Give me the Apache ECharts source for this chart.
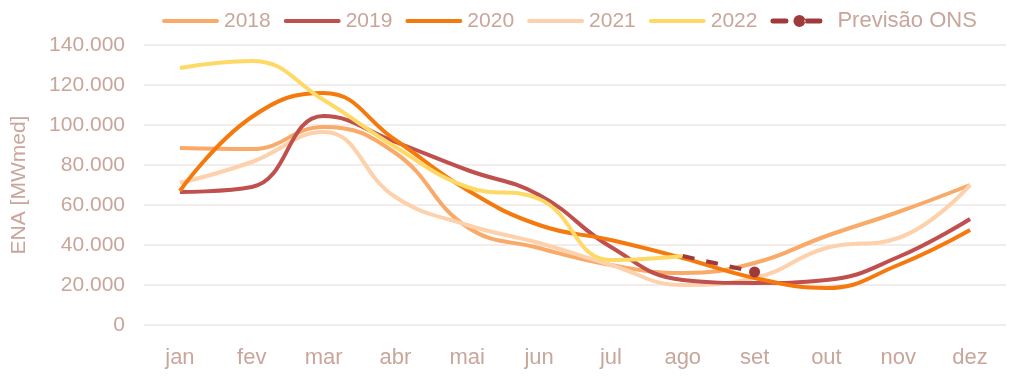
<!DOCTYPE html>
<html>
<head>
<meta charset="utf-8">
<script src="https://cdn.jsdelivr.net/npm/echarts@6/dist/echarts.min.js"></script>
<style>html,body{margin:0;padding:0;background:#fff;}#c{width:1024px;height:376px;}</style>
</head>
<body>
<div id="c"></div>
<script>
const months = ['jan','fev','mar','abr','mai','jun','jul','ago','set','out','nov','dez'];
const s2018 = [88500, 88000, 99000, 86000, 49000, 38500, 30000, 26000, 31000, 44500, 56500, 70000];
const s2019 = [66500, 69000, 104500, 91500, 77500, 65000, 39000, 22500, 21000, 22500, 34000, 53000];
const s2020 = [67000, 104000, 116000, 92500, 67500, 50000, 42500, 33500, 23500, 18500, 30000, 47500];
const s2021 = [71000, 81500, 96500, 64000, 50000, 41000, 30000, 20000, 23500, 38500, 43500, 70000];
const s2022 = [128500, 132000, 112500, 89000, 69000, 63000, 32500, 34500];
const prev = [null, null, null, null, null, null, null, 34500, 26500];

const textColor = '#C8A69C';
const font = 'Liberation Sans';
function fmt(v){ return String(v).replace(/\B(?=(\d{3})+(?!\d))/g, '.'); }
const bounds = 'M0,0h0.01v0.01h-0.01z M56.99,12h0.01v0.01h-0.01z ';
const lineIcon = 'path://' + bounds + 'M2,4h53a2,2 0 0 1 0,4h-53a2,2 0 0 1 0,-4z';
const prevIcon = 'path://' + bounds + 'M2.5,3.5h13a2.5,2.5 0 0 1 0,5h-13a2.5,2.5 0 0 1 0,-5z M23,6a6,6 0 1 0 12,0a6,6 0 1 0 -12,0z M36.5,3.5h13a2.5,2.5 0 0 1 0,5h-13a2.5,2.5 0 0 1 0,-5z';
function line(name, data, color, z){
  return {name, type:'line', data, smooth:0.45, symbol:'none', z,
    lineStyle:{width:4, color}, itemStyle:{color}};
}
const chart = echarts.init(document.getElementById('c'), null, {renderer:'canvas'});
chart.setOption({
  animation:false,
  backgroundColor:'#fff',
  textStyle:{fontFamily:font},
  grid:{left:144, right:18, top:45, bottom:51},
  legend:{
    top:5, left:157, itemWidth:57, itemHeight:12, itemGap:13,
    textStyle:{color:textColor, fontSize:21, fontFamily:font},
    data:[
      {name:'2018', icon:lineIcon},
      {name:'2019', icon:lineIcon},
      {name:'2020', icon:lineIcon},
      {name:'2021', icon:lineIcon},
      {name:'2022', icon:lineIcon},
      {name:'Previsão ONS', icon:prevIcon, textStyle:{fontSize:22, padding:[0,0,0,5]}}
    ]
  },
  xAxis:{
    type:'category', data:months, boundaryGap:true,
    axisLine:{show:false}, axisTick:{show:false},
    axisLabel:{color:textColor, fontSize:22, fontFamily:font, margin:22}
  },
  yAxis:{
    type:'value', min:0, max:140000, interval:20000,
    name:'ENA [MWmed]', nameLocation:'middle', nameGap:114, nameRotate:90,
    nameTextStyle:{color:textColor, fontSize:21, fontFamily:font},
    axisLabel:{color:textColor, fontSize:21, fontFamily:font, margin:19, formatter:fmt},
    splitLine:{lineStyle:{color:'#EFE6E6', width:1.5}},
    axisLine:{show:false}, axisTick:{show:false}
  },
  series:[
    line('2018', s2018, '#F9A968', 2),
    line('2019', s2019, '#C0504D', 3),
    line('2020', s2020, '#F57A0E', 4),
    line('2021', s2021, '#FDD1AC', 2),
    line('2022', s2022, '#FFD966', 5),
    {name:'Previsão ONS', type:'line', smooth:false, z:6,
     data: prev.map((v,i)=> v==null? null : (i===8 ? {value:v, symbol:'circle', symbolSize:11} : {value:v, symbol:'none'})),
     symbol:'circle', symbolSize:11, showSymbol:true,
     lineStyle:{width:4, type:[12,12], color:'#A03A3A'}, itemStyle:{color:'#A03A3A'}}
  ]
});
</script>
</body>
</html>
